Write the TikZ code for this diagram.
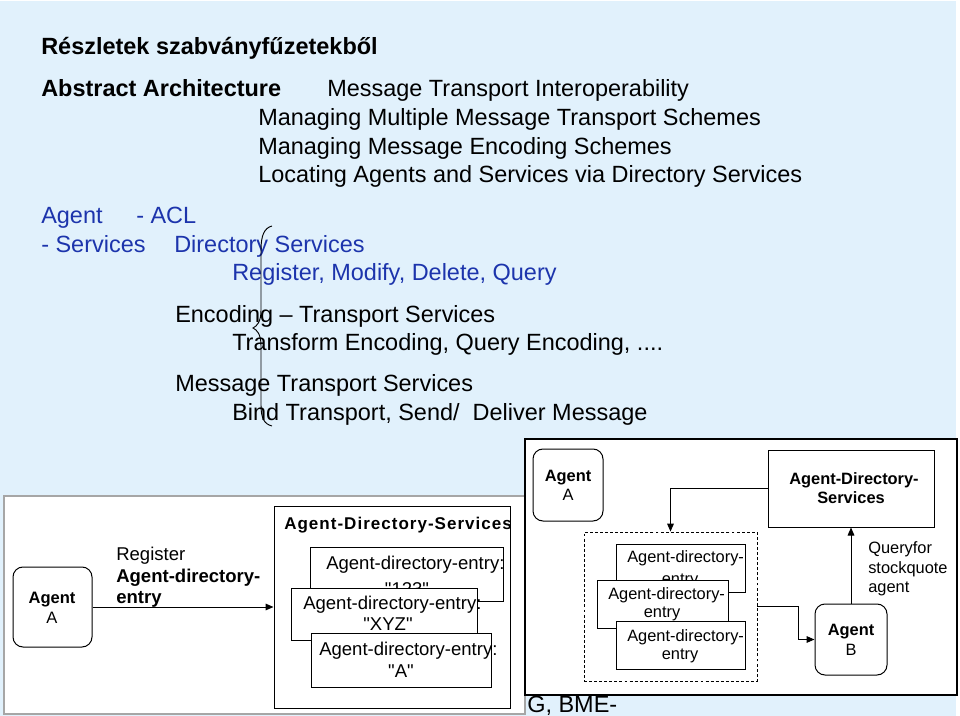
\documentclass[tikz,border=0pt]{standalone}
\usepackage{fontspec}
\setmainfont{Liberation Sans}
\newfontfamily\spacedfont[LetterSpace=6]{Liberation Sans}
\newfontfamily\qfont{Liberation Sans}
\usetikzlibrary{arrows.meta,fit,calc}
\definecolor{bgblue}{RGB}{225,241,252}
\definecolor{txtblue}{RGB}{28,52,172}
\newcommand{\sq}{{\qfont\symbol{34}}}
\begin{document}
\begin{tikzpicture}[x=0.75pt,y=-0.75pt,
  slide/.style={font=\fontsize{17.6pt}{21pt}\selectfont, anchor=base west, inner sep=0pt},
  slideb/.style={font=\fontsize{17.6pt}{21pt}\selectfont\bfseries, anchor=base west, inner sep=0pt},
  bluetxt/.style={text=txtblue},
  shot/.style={fill=white, line width=0.9pt, inner sep=0pt},
  box/.style={draw=black, line width=0.75pt, fill=white, inner sep=0pt},
  rbox/.style={box, rounded corners=7.5pt},
  dbox/.style={draw=black, line width=0.6pt, dash pattern=on 2.2pt off 1.6pt, inner sep=0pt},
  ltxt/.style={font=\fontsize{13.9pt}{16pt}\selectfont, inner sep=0pt},
  ltxtb/.style={font=\fontsize{13.9pt}{16pt}\selectfont\bfseries, inner sep=0pt},
  rtxt/.style={font=\fontsize{12.3pt}{14pt}\selectfont, inner sep=0pt},
  rtxtb/.style={font=\fontsize{12.3pt}{14pt}\selectfont\bfseries, inner sep=0pt},
  arr/.style={-{Triangle[length=6pt,width=5pt]}, line width=0.75pt},
  bracepath/.style={draw=black, line width=0.7pt}
]
\useasboundingbox (0,0) rectangle (960,716);
\fill[white] (0,0) rectangle (960,716);
\fill[bgblue] (0,1) rectangle (956,716);

% slide text
\node[slideb] (t1) at (41,55) {Részletek szabványfűzetekből};
\node[slideb] (t2) at (41,97) {Abstract Architecture};
\node[slide] (t3) at (327,97) {Message Transport Interoperability};
\node[slide] (t4) at (258,126) {Managing Multiple Message Transport Schemes};
\node[slide] (t5) at (258,155) {Managing Message Encoding Schemes};
\node[slide] (t6) at (258,183) {Locating Agents and Services via Directory Services};
\node[slide,bluetxt] (b1) at (41,224) {Agent};
\node[slide,bluetxt] (b2) at (136,224) {- ACL};
\node[slide,bluetxt] (b3) at (41,253) {- Services};
\node[slide,bluetxt] (b4) at (174,253) {Directory Services};
\node[slide,bluetxt] (b5) at (232,281) {Register, Modify, Delete, Query};
\node[slide] (k1) at (175,323) {Encoding – Transport Services};
\node[slide] (k2) at (232,351) {Transform Encoding, Query Encoding, ....};
\node[slide] (k3) at (175,392) {Message Transport Services};
\node[slide] (k4) at (232,421) {Bind Transport, Send/\ \ Deliver Message};

% brace
\path[bracepath] (272,226) .. controls (264,228) and (261,236) .. (261,250) -- (261,310)
  .. controls (261,322) and (257,326) .. (253,328)
  .. controls (257,330) and (261,334) .. (261,346) -- (261,405)
  .. controls (261,418) and (264,424) .. (272,426);

\node[slide] (foot) at (527,712) {G, BME-};

% left screenshot
\node[shot, draw=gray!70, fit={(4,496)(525,714)}] (ls) {};
\node[rbox, fit={(13,567)(92,647)}] (agA) {};
\node[ltxtb, font=\fontsize{12.4pt}{14pt}\selectfont\bfseries, anchor=base] (agAt) at (52,603) {Agent};
\node[ltxt, font=\fontsize{12.4pt}{14pt}\selectfont, anchor=base] (agAt2) at (52,623) {A};
\node[box, fit={(274,506)(510,708)}] (adsL) {};
\node[inner sep=0pt, anchor=base west, font=\fontsize{12.75pt}{15pt}\spacedfont\bfseries] (adsLt) at (284,529) {Agent-Directory-Services};
\draw[arr] (agA) -- (adsL);
\node[ltxt, anchor=base west] (reg1) at (116,560) {Register};
\node[ltxtb, anchor=base west] (reg2) at (116,582) {Agent-directory-};
\node[ltxtb, anchor=base west] (reg3) at (116,603) {entry};

\node[box, fit={(310,547)(503,601)}] (e1) {};
\node[ltxt, anchor=base west] (e1a) at (326,569) {Agent-directory-entry:};
\node[ltxt, anchor=base] (e1b) at (407,595) {\sq123\sq};
\node[box, fit={(291,588)(477,640)}] (e2) {};
\node[ltxt, anchor=base west] (e2a) at (303,609) {Agent-directory-entry:};
\node[ltxt, anchor=base] (e2b) at (388,630) {\sq XYZ\sq};
\node[box, fit={(311,633)(491,687)}] (e3) {};
\node[ltxt, anchor=base west] (e3a) at (319,655) {Agent-directory-entry:};
\node[ltxt, anchor=base] (e3b) at (401,677) {\sq A\sq};

% right screenshot
\node[shot, draw=black, fit={(525,439)(957,695)}] (rs) {};
\node[rbox, fit={(533,449)(603,521)}] (agRA) {};
\node[rtxtb, anchor=base] (agRAt) at (568,481) {Agent};
\node[rtxt, anchor=base] (agRAt2) at (568,500) {A};
\node[box, fit={(768,450)(934,527)}] (adsR) {};
\node[rtxtb, anchor=base] (adsRt1) at (854,484) {Agent-Directory-};
\node[rtxtb, anchor=base] (adsRt2) at (851,503) {Services};
\node[dbox, fit={(584,532)(757,681)}] (dash) {};
\node[box, fit={(616,544)(745,592)}] (r1) {};
\node[rtxt, anchor=base west] (r1a) at (627,562) {Agent-directory-};
\node[rtxt, anchor=base] (r1b) at (680,584) {entry};
\node[box, fit={(597,580)(728,628)}] (r2) {};
\node[rtxt, anchor=base west] (r2a) at (608,599) {Agent-directory-};
\node[rtxt, anchor=base] (r2b) at (662,617) {entry};
\node[box, fit={(616,621)(745,669)}] (r3) {};
\node[rtxt, anchor=base west] (r3a) at (627,641) {Agent-directory-};
\node[rtxt, anchor=base] (r3b) at (680,659) {entry};
\node[rbox, fit={(815,604)(887,675)}] (agB) {};
\node[rtxtb, anchor=base] (agBt) at (851,635) {Agent};
\node[rtxt, anchor=base] (agBt2) at (851,655) {B};
\node[rtxt, anchor=base west] (q1) at (868,553) {Queryfor};
\node[rtxt, anchor=base west] (q2) at (868,573) {stockquote};
\node[rtxt, anchor=base west] (q3) at (868,592) {agent};
\draw[arr] (adsR.west) -| (dash.north);
\draw[arr] (dash.east) -- ++(41,0) |- (agB.west);
\draw[arr] (agB) -- (adsR);
\end{tikzpicture}
\end{document}
